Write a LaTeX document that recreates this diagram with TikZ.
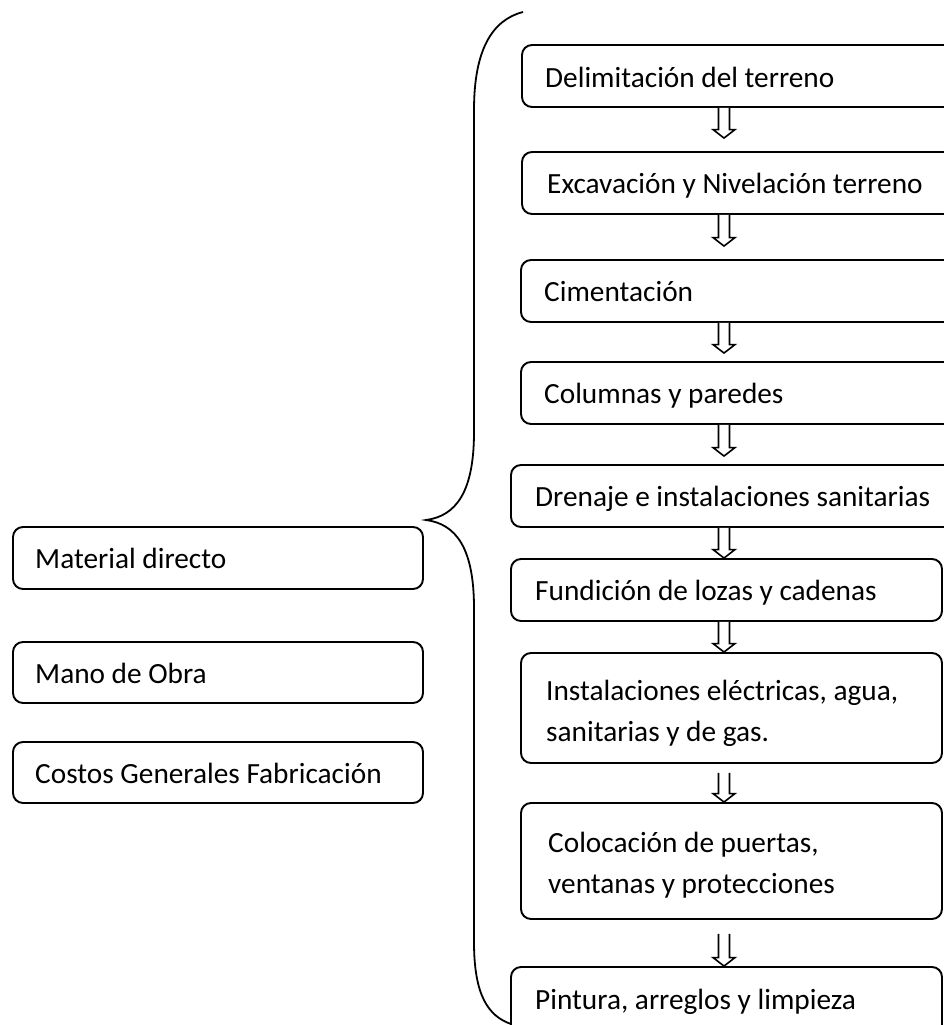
\documentclass[tikz,border=0pt]{standalone}
\usepackage{fontspec}
\setmainfont{Carlito}
\usetikzlibrary{calc}
\tikzset{
  box/.style={draw=black, line width=1.9pt, rounded corners=10pt, inner sep=0pt, fill=white},
  txt/.style={anchor=base west, inner sep=0pt, font=\fontsize{29.3}{41}\selectfont},
  hollowarrow/.style={draw=black, line width=1.6pt, line join=miter, fill=white},
  bracestyle/.style={draw=black, line width=1.8pt}
}
\newcommand\harrow[2]{%
  \draw[hollowarrow] let \p1=(#1), \p2=(#2) in
    (\x1-5.5pt,\y1) -- (\x1-5.5pt,\y2+8.5pt) -- (\x1-11pt,\y2+8.5pt) -- (\x1,\y2)
    -- (\x1+11pt,\y2+8.5pt) -- (\x1+5.5pt,\y2+8.5pt) -- (\x1+5.5pt,\y1);}
\begin{document}
\begin{tikzpicture}[x=1pt,y=-1pt]
\useasboundingbox (0,0) rectangle (944,1025);
\clip (0,0) rectangle (944,1025);
\fill[white] (0,0) rectangle (944,1025);
% brace
\draw[bracestyle] (523,12) .. controls (492,20) and (474,50) .. (474,110)
  -- (474,432) .. controls (474,492) and (456,516) .. (426,520)
  .. controls (456,524) and (474,548) .. (474,608)
  -- (474,942) .. controls (474,995) and (488,1016) .. (511,1024);
% right boxes
\node[box, minimum width=440pt, minimum height=62pt] (r1) at (742,76) {};
\node[box, minimum width=440pt, minimum height=62pt] (r2) at (742,183) {};
\node[box, minimum width=440pt, minimum height=62pt] (r3) at (741,291) {};
\node[box, minimum width=440pt, minimum height=62pt] (r4) at (741,393) {};
\node[box, minimum width=450pt, minimum height=62pt] (r5) at (736,496) {};
\node[box, minimum width=431pt, minimum height=62pt] (r6) at (726.5,590) {};
\node[box, minimum width=421pt, minimum height=110pt] (r7) at (731.5,708) {};
\node[box, minimum width=421pt, minimum height=116pt] (r8) at (731.5,861) {};
\node[box, minimum width=431pt, minimum height=80pt] (r9) at (726.5,1007) {};
% left boxes
\node[box, minimum width=410pt, minimum height=62pt] (l1) at (218,558) {};
\node[box, minimum width=410pt, minimum height=61pt] (l2) at (218,672.5) {};
\node[box, minimum width=410pt, minimum height=61pt] (l3) at (218,772.5) {};
% texts
\node[txt] (t1) at (545,87) {Delimitación del terreno};
\node[txt] (t2) at (547,193.5) {Excavación y Nivelación terreno};
\node[txt] (t3) at (544,301.5) {Cimentación};
\node[txt] (t4) at (544,403.5) {Columnas y paredes};
\node[txt] (t5) at (535,506.5) {Drenaje e instalaciones sanitarias};
\node[txt] (t6) at (535,600.5) {Fundición de lozas y cadenas};
\node[txt] (t7a) at (546,700) {Instalaciones eléctricas, agua,};
\node[txt] (t7b) at (546,741) {sanitarias y de gas.};
\node[txt] (t8a) at (548,852) {Colocación de puertas,};
\node[txt] (t8b) at (548,893) {ventanas y protecciones};
\node[txt] (t9) at (535,1009) {Pintura, arreglos y limpieza};
\node[txt] (tl1) at (35,568.5) {Material directo};
\node[txt] (tl2) at (35,683) {Mano de Obra};
\node[txt] (tl3) at (35,783) {Costos Generales Fabricación};
% arrows
\coordinate (ax) at (724,0);
\harrow{r1.south -| ax}{$(r2.north -| ax)+(0,-13)$}
\harrow{r2.south -| ax}{$(r3.north -| ax)+(0,-13)$}
\harrow{r3.south -| ax}{$(r4.north -| ax)+(0,-8)$}
\harrow{r4.south -| ax}{$(r5.north -| ax)+(0,-8)$}
\harrow{r5.south -| ax}{r6.north -| ax}
\harrow{r6.south -| ax}{r7.north -| ax}
\harrow{$(r7.south -| ax)+(0,9)$}{r8.north -| ax}
\harrow{$(r8.south -| ax)+(0,14)$}{r9.north -| ax}
\end{tikzpicture}
\end{document}
